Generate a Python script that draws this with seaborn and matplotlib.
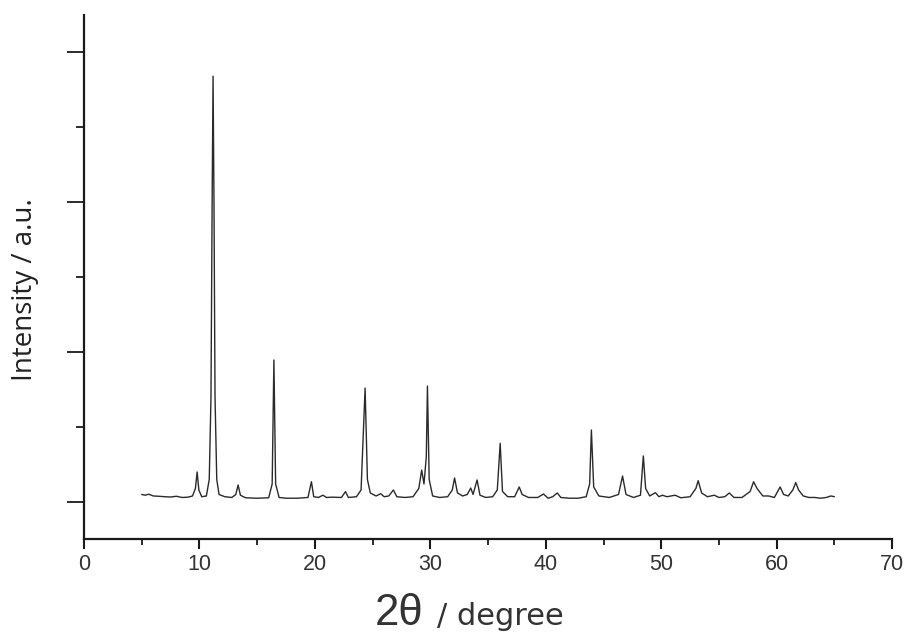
import matplotlib
matplotlib.use("Agg")
import matplotlib.pyplot as plt
import seaborn as sns
import pandas as pd
from matplotlib.ticker import MultipleLocator

# ---- data (2θ in degrees, intensity in a.u.) ----
two_theta = [
    5.0, 5.3, 5.6, 6.0, 6.5, 7.0, 7.5, 8.0, 8.5, 9.0, 9.4, 9.65, 9.8, 9.95,
    10.2, 10.6, 10.85, 11.0, 11.1, 11.18, 11.26, 11.35, 11.5, 11.7, 12.2,
    12.8, 13.15, 13.35, 13.55, 14.0, 15.0, 16.0, 16.3, 16.45, 16.6, 16.9,
    17.5, 18.5, 19.4, 19.7, 19.9, 20.3, 20.7, 21.0, 21.5, 22.3, 22.65, 22.9,
    23.6, 24.0, 24.35, 24.55, 24.8, 25.3, 25.7, 26.0, 26.4, 26.8, 27.1, 27.8,
    28.5, 29.0, 29.25, 29.45, 29.65, 29.75, 29.9, 30.2, 30.8, 31.5, 31.9,
    32.1, 32.35, 32.8, 33.2, 33.5, 33.7, 34.05, 34.3, 34.8, 35.4, 35.8,
    36.05, 36.25, 36.7, 37.3, 37.7, 37.95, 38.5, 39.3, 39.8, 40.2, 40.6,
    41.0, 41.3, 42.0, 42.8, 43.5, 43.8, 43.95, 44.15, 44.6, 45.5, 46.3,
    46.65, 46.95, 47.6, 48.2, 48.45, 48.65, 49.0, 49.5, 49.8, 50.1, 50.5,
    51.2, 51.7, 52.5, 53.0, 53.2, 53.5, 54.0, 54.6, 55.0, 55.5, 55.9, 56.3,
    57.0, 57.7, 58.0, 58.3, 58.8, 59.3, 59.8, 60.3, 60.6, 61.0, 61.4, 61.65,
    61.9, 62.3, 62.8, 63.3, 63.8, 64.3, 64.7, 65.0,
]
intensity = [
    50, 45, 52, 40, 38, 35, 33, 38, 30, 32, 40, 90, 200, 80,
    35, 40, 150, 700, 2000, 2840, 2000, 700, 150, 50, 35,
    30, 50, 113, 45, 28, 25, 28, 120, 947, 120, 30,
    25, 25, 30, 135, 35, 30, 45, 30, 32, 30, 69, 30,
    35, 80, 760, 150, 60, 40, 55, 35, 40, 80, 35, 30,
    35, 90, 213, 120, 300, 773, 150, 40, 30, 35, 80,
    160, 60, 40, 50, 93, 50, 147, 45, 30, 35, 80,
    391, 70, 35, 35, 100, 50, 30, 30, 53, 25, 35,
    60, 30, 25, 25, 35, 120, 480, 100, 40, 30, 50,
    173, 50, 30, 45, 307, 90, 40, 62, 35, 45, 35,
    45, 28, 35, 90, 142, 60, 35, 45, 30, 35, 60, 30,
    30, 70, 135, 90, 40, 40, 30, 100, 50, 40, 80, 129,
    80, 40, 30, 30, 25, 30, 40, 35,
]
x_ticks = [0, 10, 20, 30, 40, 50, 60, 70]
x_tick_labels = ["0", "10", "20", "30", "40", "50", "60", "70"]

df = pd.DataFrame({"two_theta": two_theta, "intensity": intensity})

sns.set_style("ticks")
plt.rcParams["font.family"] = ["Liberation Sans", "DejaVu Sans"]

fig = plt.figure(figsize=(9.07, 6.33), dpi=100)
ax = fig.add_axes([0.0926, 0.1485, 0.891, 0.8275])

sns.lineplot(data=df, x="two_theta", y="intensity", ax=ax,
             color="#2a2a2a", linewidth=1.0, sort=False)

ax.set_xlim(0, 70)
ax.set_ylim(-247, 3247)
ax.set_xticks(x_ticks)
ax.set_xticklabels(x_tick_labels)
ax.xaxis.set_minor_locator(MultipleLocator(5))
ax.yaxis.set_major_locator(MultipleLocator(1000))
ax.yaxis.set_minor_locator(MultipleLocator(500))
ax.set_yticklabels([])

for s in ["top", "right"]:
    ax.spines[s].set_visible(False)
for s in ["left", "bottom"]:
    ax.spines[s].set_linewidth(1.6)
    ax.spines[s].set_color("#1a1a1a")

ax.tick_params(axis="x", which="major", direction="out", length=7, width=1.5,
               labelsize=15.5, labelcolor="#333333", color="#1a1a1a", pad=4)
ax.tick_params(axis="x", which="minor", direction="out", length=4, width=1.3,
               color="#1a1a1a")
ax.tick_params(axis="y", which="major", direction="out", length=12, width=1.3,
               color="#1a1a1a")
ax.tick_params(axis="y", which="minor", direction="out", length=6, width=1.3,
               color="#1a1a1a")

ax.set_xlabel("")
ax.set_ylabel("")

# y label
fig.text(25 / 907, 1 - 290 / 633, "Intensity / a.u.", fontsize=20,
         family=["Open Sans", "DejaVu Sans"], color="#222222",
         rotation=90, ha="center", va="center")

# x label: large "2θ" followed by smaller "/ degree"
fig.text(375 / 907, 1 - 625 / 633, "2θ", fontsize=31.5,
         family=["Liberation Sans", "DejaVu Sans"], color="#333333",
         ha="left", va="baseline")
fig.text(437 / 907, 1 - 625 / 633, "/ degree", fontsize=22,
         family=["DejaVu Sans"], color="#333333", ha="left", va="baseline")

fig.savefig("out.png", dpi=100, facecolor="white")
